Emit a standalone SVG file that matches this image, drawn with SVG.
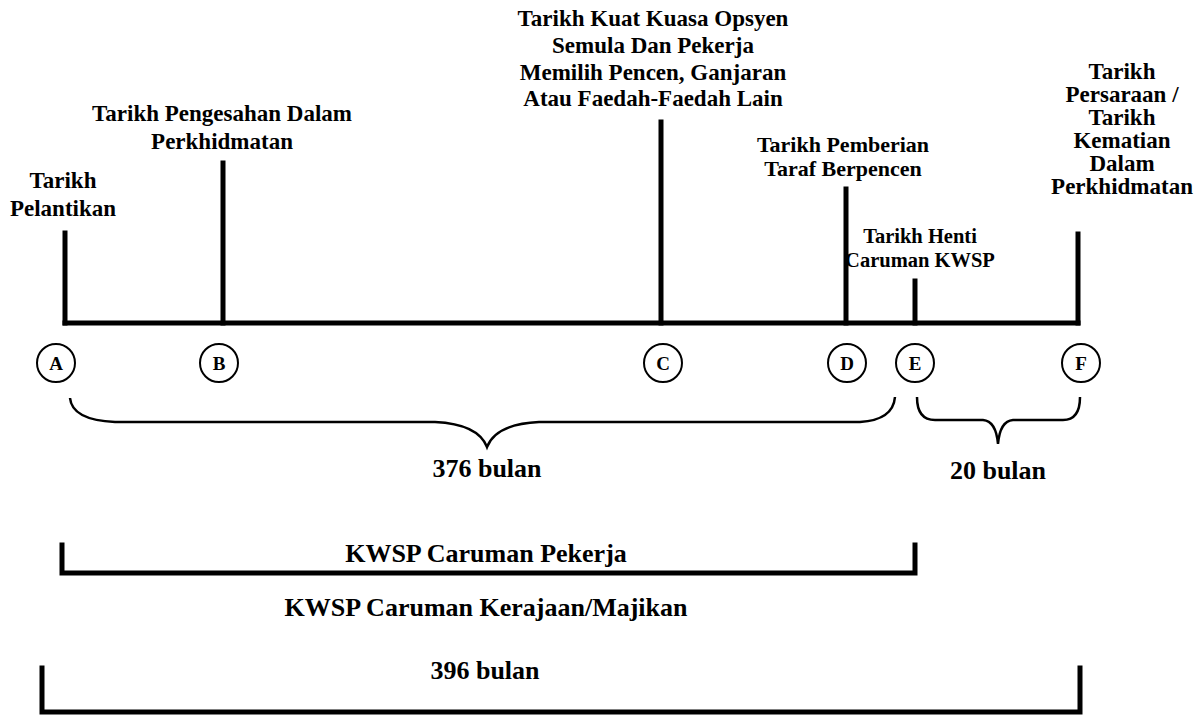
<svg xmlns="http://www.w3.org/2000/svg" width="1199" height="718" viewBox="0 0 1199 718">
<style>
text{font-family:"Liberation Serif","Times New Roman",serif;font-weight:bold;font-size:23px;fill:#000;text-anchor:middle}
.thick{stroke:#000;stroke-width:5;fill:none;stroke-linecap:square}
.brace{stroke:#000;stroke-width:2.5;fill:none}
circle{fill:#fff;stroke:#000;stroke-width:2}
.lbl{font-size:19px}
.big{font-size:26px}
.md{font-size:22px}
.sm{font-size:20.5px}
</style>
<rect width="1199" height="718" fill="#fff"/>
<g id="connectors">
<path class="thick" d="M65 323 H1078"/>
<path class="thick" d="M65 233 V323"/>
<path class="thick" d="M223 163 V323"/>
<path class="thick" d="M661 122 V323"/>
<path class="thick" d="M846 189 V323"/>
<path class="thick" d="M915 281 V323"/>
<path class="thick" d="M1078 234 V323"/>
<path class="brace" d="M70 398 Q72 420 115 422 H435 Q478 424 487 447 Q496 424 539 422 H860 Q893 420 895 397"/>
<path class="brace" d="M917 397 Q917 420 935 420 H983 Q996 421 998 444 Q1000 421 1013 420 H1063 Q1080 420 1080 397"/>
<path class="thick" d="M62 545 V573 H915 V545"/>
<path class="thick" d="M42 668 V712 H1080 V668"/>
</g>
<g id="node-A"><circle cx="56" cy="363" r="19"/><text class="lbl" x="56" y="370">A</text>
<text x="63" y="188">Tarikh</text><text x="63" y="216">Pelantikan</text></g>
<g id="node-B"><circle cx="219" cy="363" r="19"/><text class="lbl" x="219" y="370">B</text>
<text x="222" y="121">Tarikh Pengesahan Dalam</text><text x="222" y="149">Perkhidmatan</text></g>
<g id="node-C"><circle cx="663" cy="363" r="19"/><text class="lbl" x="663" y="370">C</text>
<text x="653" y="26">Tarikh Kuat Kuasa Opsyen</text><text x="653" y="53">Semula Dan Pekerja</text><text x="653" y="80">Memilih Pencen, Ganjaran</text><text x="653" y="106">Atau Faedah-Faedah Lain</text></g>
<g id="node-D"><circle cx="847" cy="363" r="19"/><text class="lbl" x="847" y="370">D</text>
<text class="md" x="843" y="152">Tarikh Pemberian</text><text class="md" x="843" y="176">Taraf Berpencen</text></g>
<g id="node-E"><circle cx="915" cy="363" r="19"/><text class="lbl" x="915" y="370">E</text>
<text class="sm" x="920" y="243">Tarikh Henti</text><text class="sm" x="920" y="267">Caruman KWSP</text></g>
<g id="node-F"><circle cx="1081" cy="363" r="19"/><text class="lbl" x="1081" y="370">F</text>
<text x="1122" y="79">Tarikh</text><text x="1122" y="102">Persaraan /</text><text x="1122" y="125">Tarikh</text><text x="1122" y="148">Kematian</text><text x="1122" y="171">Dalam</text><text x="1122" y="194">Perkhidmatan</text></g>
<g id="labels">
<text class="big" x="487" y="477">376 bulan</text>
<text class="big" x="998" y="479">20 bulan</text>
<text class="big" x="486" y="562">KWSP Caruman Pekerja</text>
<text class="big" x="486" y="616">KWSP Caruman Kerajaan/Majikan</text>
<text class="big" x="485" y="679">396 bulan</text>
</g>
</svg>
